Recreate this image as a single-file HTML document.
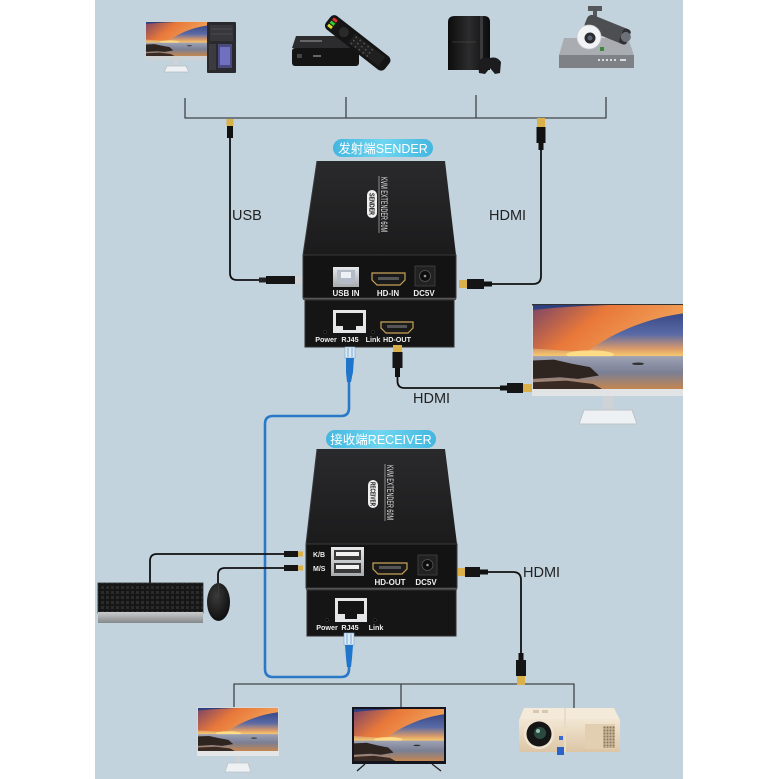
<!DOCTYPE html>
<html><head><meta charset="utf-8">
<style>
html,body{margin:0;padding:0;background:#fff;}
svg{display:block}
text{font-family:"Liberation Sans","Noto Sans CJK SC",sans-serif;}
</style></head><body>
<svg width="779" height="779" viewBox="0 0 779 779" xmlns="http://www.w3.org/2000/svg">
<defs>
 <linearGradient id="skyG" x1="0" y1="0" x2="0" y2="1">
  <stop offset="0" stop-color="#2c3d7c"/>
  <stop offset="0.35" stop-color="#5a6aa6"/>
  <stop offset="0.52" stop-color="#d99a6a"/>
  <stop offset="0.6" stop-color="#f7c66c"/>
  <stop offset="0.62" stop-color="#a3a3b3"/>
  <stop offset="1" stop-color="#6a7088"/>
 </linearGradient>
 <linearGradient id="cloudG" x1="0" y1="0" x2="1" y2="0.4">
  <stop offset="0" stop-color="#7a4466"/>
  <stop offset="0.45" stop-color="#e8783a"/>
  <stop offset="1" stop-color="#f2a45a"/>
 </linearGradient>
 <linearGradient id="seaG" x1="0" y1="0" x2="0" y2="1">
  <stop offset="0" stop-color="#9ea2b4"/>
  <stop offset="0.5" stop-color="#7a7f94"/>
  <stop offset="1" stop-color="#c48650"/>
 </linearGradient>
 <symbol id="scr" viewBox="0 0 100 100" preserveAspectRatio="none">
  <rect width="100" height="100" fill="url(#skyG)"/>
  <path d="M0,6 C30,0 70,-2 100,0 L100,10 C75,16 52,34 36,56 L0,52 Z" fill="url(#cloudG)"/>
  <ellipse cx="38" cy="59" rx="16" ry="5" fill="#ffe08a" opacity="0.9"/>
  <rect y="61" width="100" height="39" fill="url(#seaG)"/>
  <path d="M0,66 L14,65 L26,70 L38,74 L44,84 L30,88 L18,86 L0,88 Z" fill="#2e2420"/>
  <path d="M0,92 L22,90 L40,94 L46,100 L0,100 Z" fill="#3a2a24"/>
  <ellipse cx="70" cy="70" rx="4" ry="1.5" fill="#333"/>
 </symbol>
 <linearGradient id="topG" x1="0" y1="0" x2="0" y2="1">
  <stop offset="0" stop-color="#2a2a2c"/>
  <stop offset="1" stop-color="#1b1b1c"/>
 </linearGradient>
 <linearGradient id="pillG" x1="0" y1="0" x2="1" y2="0">
  <stop offset="0" stop-color="#43b6e0"/>
  <stop offset="0.5" stop-color="#6fd6f0"/>
  <stop offset="1" stop-color="#43b6e0"/>
 </linearGradient>
 <linearGradient id="silverG" x1="0" y1="0" x2="0" y2="1">
  <stop offset="0" stop-color="#e6e8ea"/>
  <stop offset="1" stop-color="#a8abae"/>
 </linearGradient>
 <linearGradient id="kbG" x1="0" y1="0" x2="0" y2="1">
  <stop offset="0" stop-color="#c9cbcd"/>
  <stop offset="1" stop-color="#86898c"/>
 </linearGradient>
 <radialGradient id="mouseG" cx="0.4" cy="0.35" r="0.7">
  <stop offset="0" stop-color="#3a3a3a"/>
  <stop offset="1" stop-color="#0c0c0c"/>
 </radialGradient>
 <linearGradient id="ps3G" x1="0" y1="0" x2="1" y2="0">
  <stop offset="0" stop-color="#0c0c0c"/>
  <stop offset="0.5" stop-color="#2c2c2e"/>
  <stop offset="1" stop-color="#0c0c0c"/>
 </linearGradient>
 <linearGradient id="projG" x1="0" y1="0" x2="0" y2="1">
  <stop offset="0" stop-color="#f3e7d3"/>
  <stop offset="1" stop-color="#dcc6a6"/>
 </linearGradient>
 <pattern id="keys" width="5" height="5" patternUnits="userSpaceOnUse">
  <rect width="5" height="5" fill="#161616"/>
  <rect x="1" y="1" width="3" height="3" fill="#2b2b2b"/>
 </pattern>
 <pattern id="vent" width="3" height="3" patternUnits="userSpaceOnUse">
  <rect width="3" height="3" fill="#d8c3a3"/>
  <rect x="0.5" y="0.5" width="2" height="2" fill="#8a7860"/>
 </pattern>
</defs>

<!-- background panel -->
<rect x="0" y="0" width="779" height="779" fill="#ffffff"/>
<rect x="95" y="0" width="588" height="779" fill="#c2d3dd"/>

<!-- ===== TOP DEVICES ===== -->
<!-- monitor + pc -->
<rect x="145" y="21" width="64" height="39" fill="#cfd2d4"/>
<use href="#scr" x="146" y="22" width="62" height="34"/>
<rect x="174" y="60" width="4" height="6" fill="#cfd3d6"/>
<path d="M167,66 L186,66 L189,72 L164,72 Z" fill="#edf1f4" stroke="#b7bcc0" stroke-width="0.8"/>
<rect x="207" y="22" width="29" height="51" rx="1" fill="#2a2a2e"/>
<rect x="210" y="25" width="23" height="16" fill="#38383c"/>
<line x1="211" y1="29" x2="232" y2="29" stroke="#555" stroke-width="0.8"/>
<line x1="211" y1="34" x2="232" y2="34" stroke="#555" stroke-width="0.8"/>
<path d="M218,44 L232,44 L232,68 L218,68 Z" fill="#4a4a80"/>
<path d="M220,47 L230,47 L230,65 L220,65 Z" fill="#7070c0"/>
<rect x="209" y="44" width="7" height="26" fill="#3c3c40"/>

<!-- set-top box + remote -->
<path d="M296,36 L354,36 L359,48 L292,48 Z" fill="#2c2c2e"/>
<rect x="292" y="48" width="67" height="18" rx="3" fill="#141414"/>
<rect x="300" y="40" width="22" height="2" fill="#666"/>
<rect x="297" y="54" width="5" height="4" fill="#444"/>
<rect x="313" y="55" width="8" height="2" fill="#666"/>
<g transform="rotate(38 357 43)">
 <rect x="320" y="34" width="75" height="17" rx="5" fill="#151515"/>
 <rect x="323" y="37" width="5" height="3" fill="#d33"/>
 <rect x="323" y="41" width="5" height="3" fill="#3c3"/>
 <rect x="323" y="45" width="5" height="3" fill="#dd3"/>
 <circle cx="340" cy="42.5" r="5" fill="#2a2a2a"/>
 <rect x="350" y="37" width="38" height="11" fill="#202020"/>
 <g fill="#555"><circle cx="353" cy="39" r="0.9"/><circle cx="353" cy="43" r="0.9"/><circle cx="353" cy="47" r="0.9"/><circle cx="358" cy="39" r="0.9"/><circle cx="358" cy="43" r="0.9"/><circle cx="358" cy="47" r="0.9"/><circle cx="363" cy="39" r="0.9"/><circle cx="363" cy="43" r="0.9"/><circle cx="363" cy="47" r="0.9"/><circle cx="368" cy="39" r="0.9"/><circle cx="368" cy="43" r="0.9"/><circle cx="368" cy="47" r="0.9"/><circle cx="373" cy="39" r="0.9"/><circle cx="373" cy="43" r="0.9"/><circle cx="373" cy="47" r="0.9"/></g>
</g>

<!-- PS3 -->
<path d="M448,22 Q448,16 455,16 L484,16 Q490,16 490,22 L490,70 L448,70 Z" fill="url(#ps3G)"/>
<rect x="480" y="16" width="3" height="54" fill="#3a3a3c"/>
<line x1="452" y1="42" x2="476" y2="42" stroke="#555" stroke-width="0.6"/>
<path d="M478,62 Q482,56 490,58 Q497,56 501,62 L500,73 L495,74 L490,68 L485,74 L479,73 Z" fill="#1c1c1e"/>

<!-- DVR + cameras -->
<path d="M564,38 L628,38 L634,55 L559,55 Z" fill="#a9adb2"/>
<rect x="559" y="55" width="75" height="13" fill="#7e8287"/>
<g fill="#d9dde0"><rect x="598" y="59" width="2" height="2"/><rect x="602" y="59" width="2" height="2"/><rect x="606" y="59" width="2" height="2"/><rect x="610" y="59" width="2" height="2"/><rect x="614" y="59" width="2" height="2"/><rect x="620" y="59" width="6" height="2"/></g>
<rect x="588" y="6" width="14" height="5" fill="#55575a"/>
<rect x="593" y="10" width="4" height="10" fill="#55575a"/>
<g transform="rotate(22 606 30)">
 <rect x="584" y="21" width="46" height="16" rx="5" fill="#4c4e52"/>
 <rect x="622" y="21" width="8" height="16" rx="3" fill="#2f3033"/>
 <circle cx="627" cy="29" r="5" fill="#6c7078"/>
</g>
<ellipse cx="589" cy="37" rx="12" ry="12" fill="#f2f3f4" stroke="#c8cbce" stroke-width="0.8"/>
<circle cx="590" cy="38" r="5.5" fill="#2a2c30"/>
<circle cx="590" cy="38" r="2.5" fill="#5a6070"/>
<rect x="600" y="47" width="4" height="4" fill="#3a8a3a"/>

<!-- top bus lines -->
<g stroke="#3f4447" stroke-width="1.3" fill="none">
 <line x1="185" y1="98" x2="185" y2="118"/>
 <line x1="346" y1="97" x2="346" y2="118"/>
 <line x1="476" y1="95" x2="476" y2="118"/>
 <line x1="606" y1="97" x2="606" y2="118"/>
 <line x1="184.5" y1="118" x2="606.5" y2="118"/>
</g>

<!-- USB cable sender -->
<rect x="226.5" y="119" width="7" height="7" fill="#d7b24a"/>
<rect x="227" y="126" width="6" height="12" fill="#111"/>
<path d="M230,138 L230,273 Q230,280 237,280 L259,280" stroke="#111" stroke-width="1.8" fill="none"/>
<rect x="259" y="277.5" width="7" height="5" fill="#222"/>
<rect x="266" y="276" width="29" height="8" fill="#151515"/>
<rect x="295" y="276.5" width="9" height="7" fill="#d0d3d6"/>

<!-- HDMI cable sender in -->
<rect x="537" y="118" width="8" height="9" fill="#d9b04a"/>
<rect x="536.5" y="127" width="9" height="16" fill="#111"/>
<rect x="538.5" y="143" width="5" height="7" fill="#111"/>
<path d="M541,150 L541,276 Q541,284 533,284 L492,284" stroke="#111" stroke-width="1.8" fill="none"/>
<rect x="484" y="281.5" width="8" height="5" fill="#111"/>
<rect x="467" y="279" width="17" height="10" fill="#151515"/>
<rect x="459" y="280" width="8" height="8" fill="#d9b04a"/>

<text x="232" y="220" font-size="14.5" fill="#222">USB</text>
<text x="489" y="220" font-size="14.5" fill="#222">HDMI</text>

<!-- SENDER label -->
<rect x="333" y="139" width="100" height="18" rx="9" fill="url(#pillG)"/>
<text x="383" y="153" font-size="12.5" fill="#fff" text-anchor="middle">发射端SENDER</text>

<!-- ===== SENDER BOX ===== -->
<path d="M317,161 L445,161 L456,255 L303,255 Z" fill="url(#topG)"/>
<path d="M317,161 L303,255" stroke="#3a3a3c" stroke-width="1"/>
<line x1="379" y1="176" x2="379" y2="233" stroke="#bbb" stroke-width="0.7"/>
<text transform="translate(381,177) rotate(90)" font-size="9" fill="#e6e6e6" textLength="55" lengthAdjust="spacingAndGlyphs">KVM EXTENDER 60M</text>
<rect x="367" y="190" width="10" height="28" rx="5" fill="#efefef"/>
<text transform="translate(369.5,193) rotate(90)" font-size="7" font-weight="bold" fill="#111" textLength="22" lengthAdjust="spacingAndGlyphs">SENDER</text>
<!-- front upper -->
<rect x="303" y="255" width="153" height="43" fill="#131313" stroke="#3a3a3a" stroke-width="1"/>
<rect x="333" y="267" width="26" height="20" fill="url(#silverG)"/>
<path d="M337,270 L355,270 L355,280 L352,284 L340,284 L337,280 Z" fill="#b4bcc8"/>
<rect x="341" y="272" width="10" height="6" fill="#eef1f5"/>
<path d="M372,273 L405,273 L405,280 L400,285 L377,285 L372,280 Z" fill="#1a1a1a" stroke="#c9a25a" stroke-width="1.2"/>
<rect x="378" y="277" width="21" height="3" fill="#555"/>
<rect x="415" y="266" width="20" height="20" fill="#222" stroke="#444" stroke-width="0.8"/>
<circle cx="425" cy="276" r="5.5" fill="#0e0e0e" stroke="#555" stroke-width="0.8"/>
<circle cx="425" cy="276" r="1.3" fill="#999"/>
<g font-size="8" font-weight="bold" fill="#eee" text-anchor="middle">
 <text x="346" y="296">USB IN</text>
 <text x="388" y="296">HD-IN</text>
 <text x="424" y="296">DC5V</text>
</g>
<!-- front lower -->
<rect x="303" y="298" width="153" height="2" fill="#555"/>
<rect x="305" y="300" width="149" height="47" fill="#151515" stroke="#2e2e2e" stroke-width="1"/>
<rect x="333" y="310" width="33" height="23" fill="#e4e6e8"/>
<path d="M336,313 L363,313 L363,326 L356,326 L356,330 L343,330 L343,326 L336,326 Z" fill="#141414"/>
<circle cx="325" cy="332" r="1.6" fill="#050505" stroke="#444" stroke-width="0.5"/>
<circle cx="373" cy="332" r="1.6" fill="#050505" stroke="#444" stroke-width="0.5"/>
<path d="M381,322 L413,322 L413,328 L408,333 L386,333 L381,328 Z" fill="#1a1a1a" stroke="#c9a25a" stroke-width="1.2"/>
<rect x="387" y="325" width="20" height="3" fill="#555"/>
<g font-size="7.2" font-weight="bold" fill="#eee" text-anchor="middle">
 <text x="326" y="342">Power</text>
 <text x="350" y="342">RJ45</text>
 <text x="373" y="342">Link</text>
 <text x="397" y="342">HD-OUT</text>
</g>

<!-- blue ethernet cable -->
<path d="M349,380 L349,408 Q349,416 341,416 L273,416 Q265,416 265,424 L265,669 Q265,677 273,677 L341,677 Q349,677 349,669 L349,666" stroke="#2a78c8" stroke-width="2.6" fill="none"/>
<rect x="345" y="347" width="10" height="11" fill="#dceaf2" stroke="#7aa8d0" stroke-width="0.6"/>
<line x1="348" y1="348" x2="348" y2="357" stroke="#3a7ac8" stroke-width="0.6"/>
<line x1="352" y1="348" x2="352" y2="357" stroke="#3a7ac8" stroke-width="0.6"/>
<path d="M346,358 L354,358 L353,372 L351,382 L347,382 L346,372 Z" fill="#1f74cc"/>

<!-- HDMI sender out to monitor -->
<rect x="393" y="345" width="9" height="7" fill="#d9b04a"/>
<rect x="392.5" y="352" width="10" height="16" fill="#151515"/>
<rect x="395" y="368" width="5" height="9" fill="#111"/>
<path d="M397.5,377 L397.5,381 Q397.5,388 404.5,388 L500,388" stroke="#111" stroke-width="1.8" fill="none"/>
<rect x="500" y="385.5" width="7" height="5" fill="#111"/>
<rect x="507" y="383" width="16" height="10" fill="#151515"/>
<rect x="523" y="384" width="9" height="8" fill="#d9b04a"/>
<text x="413" y="403" font-size="14.5" fill="#222">HDMI</text>

<!-- right monitor -->
<rect x="532" y="304" width="151" height="92" fill="#d6d9db"/>
<rect x="532" y="304" width="151" height="1.5" fill="#333"/>
<use href="#scr" x="533" y="305" width="150" height="84"/>
<rect x="532" y="389" width="151" height="7" fill="#e1e3e5"/>
<rect x="603" y="396" width="10" height="14" fill="#cfd3d6"/>
<path d="M584,410 L632,410 L637,424 L579,424 Z" fill="#eef1f3" stroke="#bfc3c7" stroke-width="1"/>

<!-- ===== RECEIVER ===== -->
<rect x="326" y="430" width="110" height="18" rx="9" fill="url(#pillG)"/>
<text x="381" y="444" font-size="12.5" fill="#fff" text-anchor="middle">接收端RECEIVER</text>

<path d="M317,449 L445,449 L457,544 L306,544 Z" fill="url(#topG)"/>
<path d="M317,449 L306,544" stroke="#3a3a3c" stroke-width="1"/>
<line x1="385" y1="464" x2="385" y2="521" stroke="#bbb" stroke-width="0.7"/>
<text transform="translate(387,465) rotate(90)" font-size="9" fill="#e6e6e6" textLength="55" lengthAdjust="spacingAndGlyphs">KVM EXTENDER 60M</text>
<rect x="368" y="480" width="10" height="28" rx="5" fill="#efefef"/>
<text transform="translate(370.5,482) rotate(90)" font-size="7" font-weight="bold" fill="#111" textLength="24" lengthAdjust="spacingAndGlyphs">RECEIVER</text>

<rect x="306" y="544" width="151" height="44" fill="#131313" stroke="#3a3a3a" stroke-width="1"/>
<g font-size="7" font-weight="bold" fill="#eee">
 <text x="313" y="557">K/B</text>
 <text x="313" y="571">M/S</text>
</g>
<rect x="331" y="547" width="33" height="29" fill="url(#silverG)"/>
<rect x="334" y="550" width="27" height="10" fill="#3a3a3a"/>
<rect x="336" y="552" width="23" height="4" fill="#f2f2f2"/>
<rect x="334" y="563" width="27" height="10" fill="#3a3a3a"/>
<rect x="336" y="565" width="23" height="4" fill="#f2f2f2"/>
<path d="M373,563 L407,563 L407,569 L402,574 L378,574 L373,569 Z" fill="#1a1a1a" stroke="#c9a25a" stroke-width="1.2"/>
<rect x="379" y="566" width="22" height="3" fill="#555"/>
<rect x="418" y="555" width="19" height="20" fill="#222" stroke="#444" stroke-width="0.8"/>
<circle cx="427.5" cy="565" r="5.5" fill="#0e0e0e" stroke="#555" stroke-width="0.8"/>
<circle cx="427.5" cy="565" r="1.3" fill="#999"/>
<g font-size="8" font-weight="bold" fill="#eee" text-anchor="middle">
 <text x="390" y="585">HD-OUT</text>
 <text x="426" y="585">DC5V</text>
</g>

<rect x="306" y="588" width="151" height="2" fill="#555"/>
<rect x="307" y="590" width="149" height="46" fill="#151515" stroke="#2e2e2e" stroke-width="1"/>
<rect x="335" y="598" width="32" height="24" fill="#e4e6e8"/>
<path d="M338,601 L364,601 L364,614 L357,614 L357,619 L345,619 L345,614 L338,614 Z" fill="#141414"/>
<circle cx="327" cy="620" r="1.6" fill="#050505" stroke="#444" stroke-width="0.5"/>
<circle cx="375" cy="620" r="1.6" fill="#050505" stroke="#444" stroke-width="0.5"/>
<g font-size="7.2" font-weight="bold" fill="#eee" text-anchor="middle">
 <text x="327" y="630">Power</text>
 <text x="350" y="630">RJ45</text>
 <text x="376" y="630">Link</text>
</g>

<!-- receiver blue plug -->
<rect x="344" y="633" width="10" height="12" fill="#dceaf2" stroke="#7aa8d0" stroke-width="0.6"/>
<line x1="347" y1="634" x2="347" y2="644" stroke="#3a7ac8" stroke-width="0.6"/>
<line x1="351" y1="634" x2="351" y2="644" stroke="#3a7ac8" stroke-width="0.6"/>
<path d="M345,645 L353,645 L352,658 L351,667 L347,667 L346,658 Z" fill="#1f74cc"/>

<!-- keyboard & mouse cables -->
<path d="M284,554 L157,554 Q150,554 150,561 L150,583" stroke="#111" stroke-width="1.8" fill="none"/>
<path d="M284,568 L225,568 Q218,568 218,575 L218,586" stroke="#111" stroke-width="1.8" fill="none"/>
<rect x="284" y="551" width="14" height="6" fill="#151515"/>
<rect x="298" y="551.5" width="5" height="5" fill="#d9b04a"/>
<rect x="284" y="565" width="14" height="6" fill="#151515"/>
<rect x="298" y="565.5" width="5" height="5" fill="#d9b04a"/>

<!-- keyboard -->
<rect x="98" y="583" width="105" height="30" fill="url(#keys)"/>
<rect x="98" y="583" width="105" height="30" fill="none" stroke="#2a2a2a" stroke-width="0.8"/>
<rect x="98" y="612" width="105" height="11" fill="url(#kbG)"/>
<!-- mouse -->
<ellipse cx="218.5" cy="602" rx="11.5" ry="19" fill="url(#mouseG)"/>
<line x1="218.5" y1="584" x2="218.5" y2="597" stroke="#444" stroke-width="0.6"/>

<!-- HDMI receiver out -->
<rect x="458" y="568" width="7" height="8" fill="#d9b04a"/>
<rect x="465" y="567" width="15" height="10" fill="#151515"/>
<rect x="480" y="569.5" width="8" height="5" fill="#111"/>
<path d="M488,572 L513,572 Q521,572 521,580 L521,653" stroke="#111" stroke-width="1.8" fill="none"/>
<rect x="518.5" y="653" width="5" height="7" fill="#111"/>
<rect x="516" y="660" width="10" height="16" fill="#151515"/>
<rect x="517" y="676" width="8" height="9" fill="#d9b04a"/>
<text x="523" y="577" font-size="14.5" fill="#222">HDMI</text>

<!-- bottom bus -->
<g stroke="#3f4447" stroke-width="1.3" fill="none">
 <line x1="233.5" y1="684" x2="574.5" y2="684"/>
 <line x1="234" y1="684" x2="234" y2="707"/>
 <line x1="401" y1="684" x2="401" y2="707"/>
 <line x1="574" y1="684" x2="574" y2="709"/>
</g>
<rect x="517" y="676" width="8" height="9" fill="#d9b04a"/>

<!-- bottom left monitor -->
<rect x="197" y="707" width="82" height="49" fill="#d6d9db"/>
<use href="#scr" x="198" y="708" width="80" height="43"/>
<rect x="197" y="751" width="82" height="5" fill="#e3e5e7"/>
<rect x="236" y="756" width="4" height="7" fill="#cfd3d6"/>
<path d="M228,763 L248,763 L251,772 L225,772 Z" fill="#eef1f3" stroke="#bfc3c7" stroke-width="0.8"/>

<!-- TV -->
<rect x="352" y="707" width="94" height="57" fill="#14141e"/>
<use href="#scr" x="354" y="709" width="90" height="52"/>
<line x1="365" y1="764" x2="357" y2="771" stroke="#222" stroke-width="1.3"/>
<line x1="432" y1="764" x2="441" y2="771" stroke="#222" stroke-width="1.3"/>

<!-- projector -->
<path d="M524,708 L614,708 L620,720 L519,720 Z" fill="#f4ead9"/>
<rect x="519" y="719" width="101" height="33" rx="2" fill="url(#projG)"/>
<rect x="564" y="708" width="2" height="44" fill="#e9dcc6"/>
<rect x="585" y="724" width="30" height="25" fill="#e2cfb2"/>
<rect x="603" y="726" width="12" height="22" fill="url(#vent)"/>
<circle cx="539" cy="734" r="15" fill="#f0e4d0"/>
<circle cx="539" cy="734" r="12.5" fill="#151515"/>
<circle cx="540" cy="733" r="6" fill="#2a4a40"/>
<circle cx="538" cy="731" r="2" fill="#8fc0a8"/>
<rect x="559" y="736" width="4" height="4" fill="#3a6ad0"/>
<rect x="557" y="747" width="7" height="8" fill="#2a62c8"/>
<rect x="533" y="710" width="6" height="3" fill="#d8c8b0"/>
<rect x="542" y="710" width="6" height="3" fill="#d8c8b0"/>
</svg>
</body></html>
